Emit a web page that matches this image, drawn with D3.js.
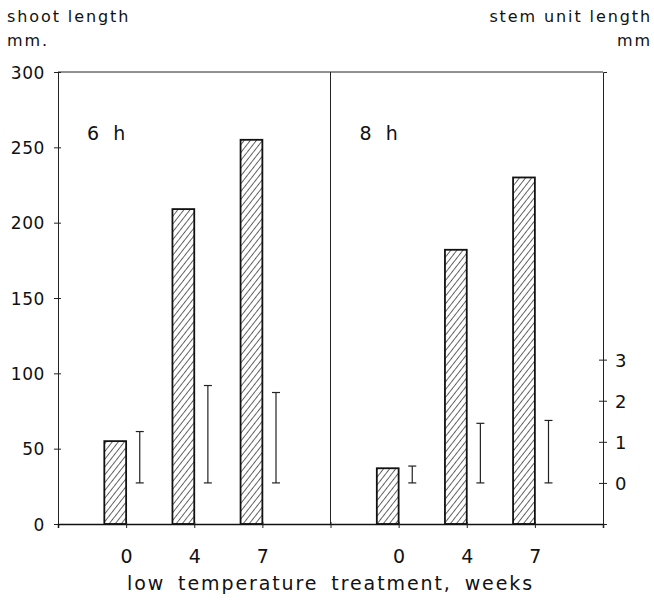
<!DOCTYPE html>
<html>
<head>
<meta charset="utf-8">
<script src="https://cdn.jsdelivr.net/npm/d3@7"></script>
<style>
  body { margin: 0; background: #fff; }
  svg { display: block; }
  text { font-family: "DejaVu Sans", sans-serif; fill: #111; }
</style>
</head>
<body>
<svg id="chart" width="654" height="600"></svg>
<script>
// data
const weeks = ["0", "4", "7"];
const panels = ["6 h", "8 h"];
const shoot6h = [55, 209, 255];
const shoot8h = [37, 182, 230];
const stemLow6h = [0, 0, 0];
const stemHigh6h = [1.25, 2.37, 2.2];
const stemLow8h = [0, 0, 0];
const stemHigh8h = [0.41, 1.45, 1.52];
const shootTicks = [0, 50, 100, 150, 200, 250, 300];
const stemTicks = [0, 1, 2, 3];

const svg = d3.select("#chart");
const mLeft = 58, mRight = 603, mTop = 72, mBottom = 524;

// x: 8 slots across both panels, divider at 4
const x = d3.scaleLinear().domain([0, 8]).range([mLeft, mRight]);
const y = d3.scaleLinear().domain([0, 300]).range([mBottom, mTop]);
const y2 = d3.scaleLinear().domain([-1, 10]).range([mBottom, mTop]);

const barW = 0.32, errOff = 0.2;

svg.append("defs").append("pattern")
  .attr("id", "hatch")
  .attr("patternUnits", "userSpaceOnUse")
  .attr("width", 4.8).attr("height", 4.8)
  .attr("patternTransform", "rotate(38)")
  .append("line")
  .attr("x1", 0).attr("y1", 0).attr("x2", 0).attr("y2", 4.8)
  .attr("stroke", "#111").attr("stroke-width", 1.3);

const rows = [];
[shoot6h, shoot8h].forEach((vals, p) => {
  const lo = p == 0 ? stemLow6h : stemLow8h;
  const hi = p == 0 ? stemHigh6h : stemHigh8h;
  vals.forEach((v, i) => {
    rows.push({ pos: p * 4 + i + 1, week: weeks[i], shoot: v, lo: lo[i], hi: hi[i] });
  });
});

// frame lines
svg.append("line")
  .attr("x1", mLeft).attr("x2", mRight).attr("y1", mTop).attr("y2", mTop)
  .attr("stroke", "#222").attr("stroke-width", 1);
svg.append("line")
  .attr("x1", x(4)).attr("x2", x(4)).attr("y1", mTop).attr("y2", mBottom)
  .attr("stroke", "#222").attr("stroke-width", 1);

// bars
svg.append("g")
  .selectAll("rect")
  .data(rows)
  .join("rect")
  .attr("x", (d) => x(d.pos - barW))
  .attr("width", (d) => x(d.pos) - x(d.pos - barW))
  .attr("y", (d) => y(d.shoot))
  .attr("height", (d) => y(0) - y(d.shoot))
  .attr("fill", "url(#hatch)")
  .attr("stroke", "#111")
  .attr("stroke-width", 1.8);

// error bars (stem unit length)
const err = svg.append("g").attr("stroke", "#222").attr("stroke-width", 1.2);
err.selectAll("line.v")
  .data(rows)
  .join("line")
  .attr("class", "v")
  .attr("x1", (d) => x(d.pos + errOff)).attr("x2", (d) => x(d.pos + errOff))
  .attr("y1", (d) => y2(d.lo)).attr("y2", (d) => y2(d.hi));
err.selectAll("line.c")
  .data(rows.flatMap((d) => [[d.pos, d.lo], [d.pos, d.hi]]))
  .join("line")
  .attr("class", "c")
  .attr("x1", (d) => x(d[0] + errOff) - 4).attr("x2", (d) => x(d[0] + errOff) + 4)
  .attr("y1", (d) => y2(d[1])).attr("y2", (d) => y2(d[1]));

// left axis
const gy = svg.append("g")
  .attr("transform", `translate(${mLeft},0)`)
  .call(d3.axisLeft(y).tickValues(shootTicks).tickSize(4));
gy.select(".domain").attr("stroke", "#222");
gy.selectAll(".tick line").attr("x1", -4).attr("x2", 3).attr("stroke", "#222");
gy.selectAll(".tick text")
  .attr("x", -13).attr("dy", "0.36em")
  .style("font-size", "17px").style("letter-spacing", "0.6px")
  .style("font-family", "DejaVu Sans").attr("fill", "#111");

// right axis
const gr = svg.append("g")
  .attr("transform", `translate(${mRight},0)`)
  .call(d3.axisRight(y2).tickValues(stemTicks).tickSize(4));
gr.select(".domain").attr("stroke", "#222");
gr.selectAll(".tick line").attr("x1", -4).attr("x2", 4).attr("stroke", "#222");
gr.selectAll(".tick text")
  .attr("x", 12).attr("dy", "0.36em")
  .style("font-size", "18px").style("font-family", "DejaVu Sans").attr("fill", "#111");

// bottom axis
const gx = svg.append("g")
  .attr("transform", `translate(0,${mBottom})`)
  .call(d3.axisBottom(x).tickValues(d3.range(1, 9)).tickSize(4)
    .tickFormat((d) => { const r = rows.find((e) => e.pos == d); return r ? r.week : ""; }));
gx.select(".domain").attr("stroke", "#111").attr("stroke-width", 1.5);
gx.selectAll(".tick line").attr("y1", -2).attr("y2", 4).attr("stroke", "#222");
gx.selectAll(".tick text")
  .attr("y", 26).attr("dy", "0.71em")
  .style("font-size", "19px").style("font-family", "DejaVu Sans").attr("fill", "#111");

// panel labels
svg.append("g")
  .selectAll("text")
  .data(panels)
  .join("text")
  .attr("x", (d, i) => x(i * 4) + 29)
  .attr("y", 140)
  .style("font-size", "19px")
  .style("word-spacing", "8px")
  .text((d) => d);

// axis titles
svg.append("text").attr("x", 7).attr("y", 22)
  .style("font-size", "16px").style("letter-spacing", "1.9px")
  .text("shoot length");
svg.append("text").attr("x", 7).attr("y", 46)
  .style("font-size", "16px").style("letter-spacing", "1.9px")
  .text("mm.");
svg.append("text").attr("x", 652).attr("y", 22).attr("text-anchor", "end")
  .style("font-size", "16px").style("letter-spacing", "1.9px")
  .text("stem unit length");
svg.append("text").attr("x", 652).attr("y", 46).attr("text-anchor", "end")
  .style("font-size", "16px").style("letter-spacing", "1.9px")
  .text("mm");
svg.append("text").attr("x", x(4)).attr("y", 590).attr("text-anchor", "middle")
  .style("font-size", "19px").style("letter-spacing", "1.9px").style("word-spacing", "5px")
  .text("low temperature treatment, weeks");
</script>
</body>
</html>
